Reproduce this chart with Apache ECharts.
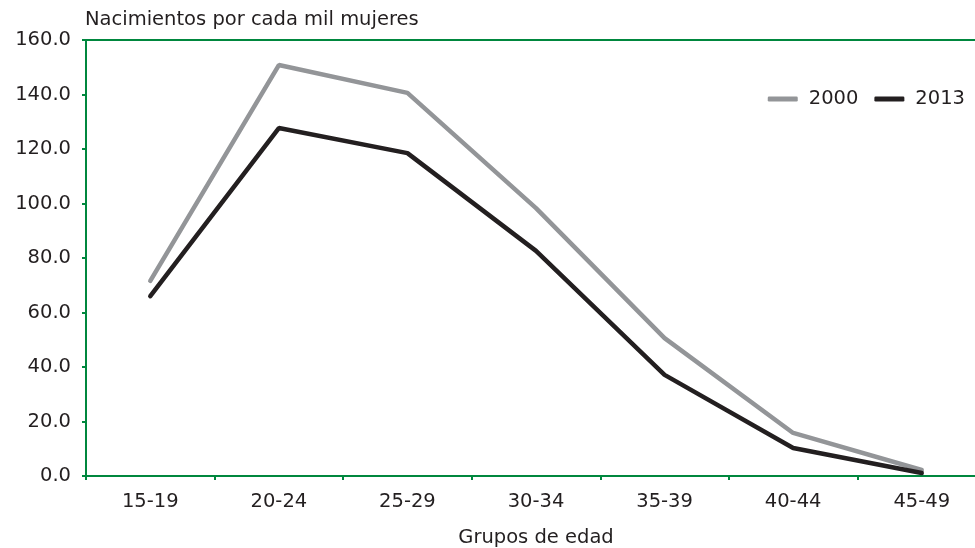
<!DOCTYPE html>
<html>
<head>
<meta charset="utf-8">
<script src="https://cdn.jsdelivr.net/npm/echarts@6/dist/echarts.min.js"></script>
<style>
  html, body { margin: 0; padding: 0; background: #fff; }
  #chart { width: 975px; height: 548px; }
</style>
</head>
<body>
<div id="chart"></div>
<script>
// grupos de edad y tasas (nacimientos por cada mil mujeres)
const categories = ['15-19', '20-24', '25-29', '30-34', '35-39', '40-44', '45-49'];
const values2000 = [71.6, 150.8, 140.6, 98.3, 50.6, 15.8, 2.2];
const values2013 = [66.0, 127.7, 118.5, 82.6, 37.1, 10.3, 1.1];

const green = '#00873e';
const ink = '#231f20';
const font = '"DejaVu Sans", sans-serif';

const myChart = echarts.init(document.getElementById('chart'));

const option = {
  animation: false,
  textStyle: { fontFamily: font },
  grid: {
    left: 86,
    width: 900,
    top: 40,
    bottom: 72,
    show: true,
    borderColor: green,
    borderWidth: 2,
    containLabel: false,
    outerBoundsMode: 'none'
  },
  legend: {
    right: 5,
    top: 84,
    itemWidth: 30,
    itemHeight: 5,
    itemGap: 16,
    icon: 'roundRect',
    textStyle: { fontSize: 19.5, color: ink, fontFamily: font, padding: [0, 0, 0, 6] },
    data: ['2000', '2013']
  },
  xAxis: {
    type: 'category',
    data: categories,
    boundaryGap: true,
    name: 'Grupos de edad',
    nameLocation: 'middle',
    nameGap: 52,
    nameTextStyle: { fontSize: 19.5, color: ink, fontFamily: font },
    axisLine: { lineStyle: { color: green, width: 2 } },
    axisTick: { show: true, length: 4, lineStyle: { color: green, width: 2 } },
    axisLabel: { fontSize: 19.5, color: ink, margin: 16, fontFamily: font }
  },
  yAxis: {
    type: 'value',
    min: 0,
    max: 160,
    interval: 20,
    name: 'Nacimientos por cada mil mujeres',
    nameLocation: 'end',
    nameGap: 10,
    nameTextStyle: { fontSize: 19.5, color: ink, align: 'left', padding: [0, 0, 0, -1], fontFamily: font },
    axisLine: { show: true, lineStyle: { color: green, width: 2 } },
    axisTick: { show: true, length: 4, lineStyle: { color: green, width: 2 } },
    splitLine: { show: false },
    axisLabel: {
      fontSize: 19.5,
      color: ink,
      margin: 15,
      fontFamily: font,
      formatter: v => v.toFixed(1)
    }
  },
  series: [
    {
      name: '2000',
      type: 'line',
      data: values2000,
      symbol: 'none',
      lineStyle: { color: '#939598', width: 4.5, cap: 'round' },
      itemStyle: { color: '#939598' }
    },
    {
      name: '2013',
      type: 'line',
      data: values2013,
      symbol: 'none',
      lineStyle: { color: ink, width: 4.5, cap: 'round' },
      itemStyle: { color: ink }
    }
  ]
};

myChart.setOption(option);
</script>
</body>
</html>
